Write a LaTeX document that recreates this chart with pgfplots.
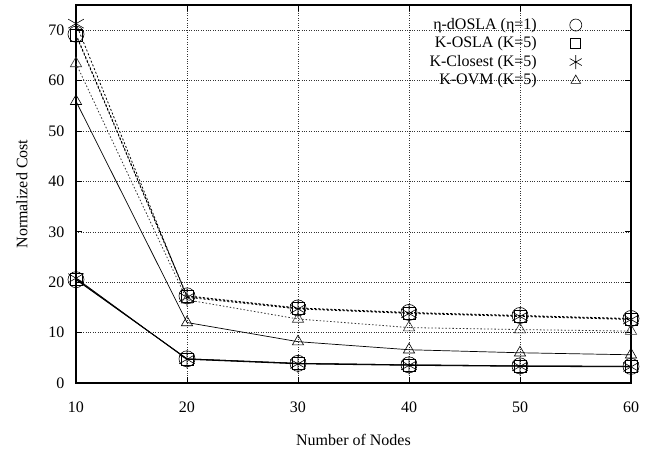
\documentclass[border=0pt]{standalone}
\usepackage{fontspec}
\setmainfont{Liberation Serif}
\usepackage{pgfplots}
\pgfplotsset{compat=1.18}
\begin{document}
\fontsize{16}{19}\selectfont
\begin{tikzpicture}
\useasboundingbox (-76pt,-67pt) rectangle (579pt,383pt);
\begin{axis}[
  at={(0,0)}, anchor=south west, scale only axis,
  width=555pt, height=378pt,
  xmin=10, xmax=60, ymin=0, ymax=75,
  xtick={10,20,30,40,50,60}, ytick={0,10,...,70},
  tick align=inside, major tick length=6pt,
  tick style={black, line width=0.8pt},
  xtick pos=both, ytick pos=both,
  grid=major, grid style={dotted, black!80, line width=0.6pt},
  axis line style={line width=1.4pt},
  /pgf/number format/assume math mode=true,
  tick label style={font=\fontsize{16}{19}\selectfont},
  label style={font=\fontsize{16}{19}\selectfont},
  xlabel={Number of Nodes}, ylabel={Normalized Cost},
  xticklabel style={yshift=-13pt},
  yticklabel style={xshift=-6pt},
  xlabel style={yshift=-11pt},
  ylabel style={yshift=10pt},
  legend style={draw=none, fill=none, at={(0.9225,0.968)}, anchor=north east,
    font=\fontsize{16}{19}\selectfont, row sep=3pt, inner sep=0pt,
    nodes={inner sep=1pt}},
  legend cell align=right, legend plot pos=right,
  legend image code/.code={\path[draw=none,fill=none] (0pt,-5pt) rectangle (50pt,5pt);
    \draw[#1] plot coordinates {(38pt,0pt)};},
  every axis plot/.append style={mark options={solid, line width=0.6pt}},
]
\addlegendimage{only marks, mark=o, mark size=6pt, black}
\addlegendentry{η-dOSLA (η=1)}
\addlegendimage{only marks, mark=square, mark size=5pt, black}
\addlegendentry{K-OSLA (K=5)}
\addlegendimage{only marks, mark=asterisk, mark size=7pt, black}
\addlegendentry{K-Closest (K=5)}
\addlegendimage{only marks, mark=triangle, mark size=5.5pt, black}
\addlegendentry{K-OVM (K=5)}
% solid lines
\addplot[forget plot, black, line width=0.8pt, mark=o, mark size=8pt] coordinates {(10,20.5)(20,4.8)(30,3.9)(40,3.6)(50,3.4)(60,3.3)};
\addplot[forget plot, black, line width=0.8pt, mark=square, mark size=6pt] coordinates {(10,20.6)(20,4.8)(30,3.9)(40,3.6)(50,3.4)(60,3.3)};
\addplot[forget plot, black, line width=0.8pt, mark=asterisk, mark size=9pt] coordinates {(10,20.8)(20,4.7)(30,3.8)(40,3.5)(50,3.3)(60,3.2)};
\addplot[forget plot, black, line width=0.7pt, mark=triangle, mark size=6.5pt] coordinates {(10,55.9)(20,12.0)(30,8.2)(40,6.6)(50,6.0)(60,5.6)};
% dotted lines
\addplot[forget plot, black, line width=0.8pt, dash pattern=on 2pt off 2pt, mark=o, mark size=8pt] coordinates {(10,69.2)(20,17.3)(30,14.9)(40,14.0)(50,13.4)(60,12.8)};
\addplot[forget plot, black, line width=0.8pt, dash pattern=on 2pt off 2pt, mark=square, mark size=6pt] coordinates {(10,69.0)(20,17.2)(30,14.8)(40,13.9)(50,13.3)(60,12.7)};
\addplot[forget plot, black, line width=0.8pt, dash pattern=on 2pt off 2pt, mark=asterisk, mark size=9pt] coordinates {(10,71.3)(20,17.0)(30,14.7)(40,13.8)(50,13.2)(60,12.6)};
\addplot[forget plot, black!80, line width=0.8pt, dash pattern=on 1.5pt off 2pt, mark=triangle, mark size=6.5pt] coordinates {(10,63.4)(20,16.5)(30,12.7)(40,11.0)(50,10.6)(60,10.3)};
\end{axis}
\end{tikzpicture}
\end{document}
